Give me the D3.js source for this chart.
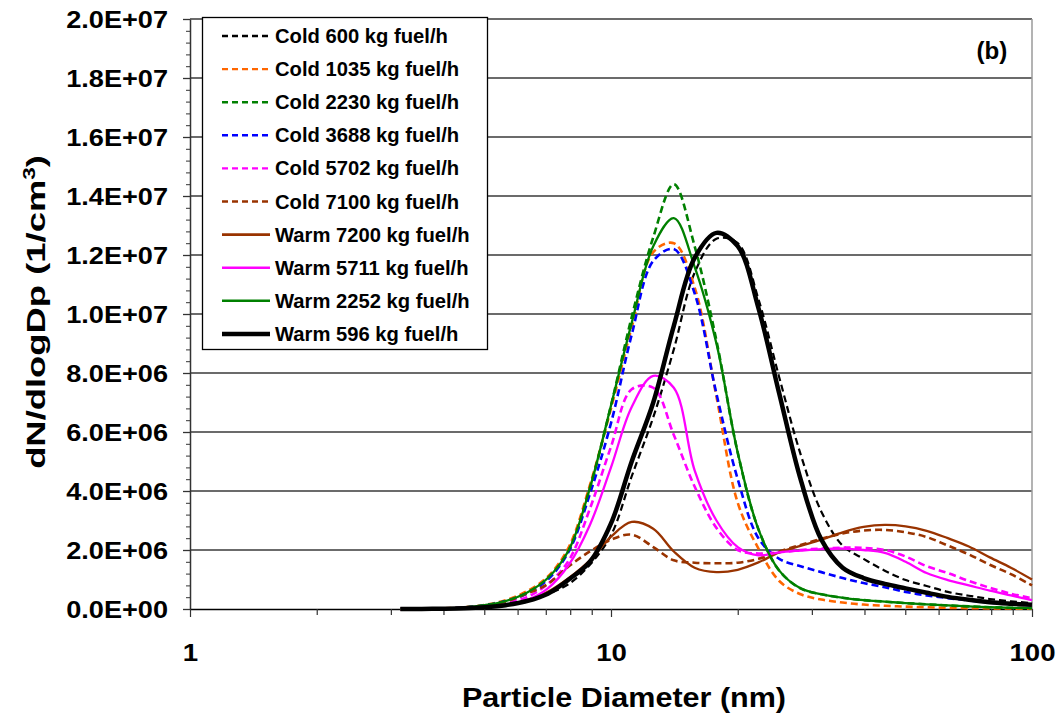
<!DOCTYPE html>
<html><head><meta charset="utf-8">
<script src="https://cdn.jsdelivr.net/npm/d3@7"></script>
<style>
body{margin:0;background:#fff;}
svg text{font-family:"Liberation Sans",Arial,sans-serif;font-weight:bold;fill:#000;}
</style></head><body>
<svg id="chart" width="1060" height="715"></svg>
<script>
// ---- data (dN/dlogDp in units of 1E6 per cm3) ----
const diameters = [3.16, 3.55, 3.98, 4.47, 5.01, 5.62, 6.31, 7.08, 7.94, 8.91, 10.0, 11.2, 12.6, 14.1, 15.8, 17.8, 20.0, 22.4, 25.1, 28.2, 31.6, 35.5, 39.8, 44.7, 50.1, 56.2, 63.1, 70.8, 79.4, 89.1, 100];

const cold600  = [0, 0.002, 0.008, 0.025, 0.06, 0.13, 0.25, 0.5, 0.85, 1.5, 2.5, 4.5, 6.5, 8.8, 11.4, 12.55, 12.4, 10.5, 7.85, 5.25, 3.3, 2.15, 1.7, 1.3, 0.98, 0.78, 0.58, 0.45, 0.34, 0.26, 0.2];
const cold1035 = [0, 0.005, 0.02, 0.06, 0.14, 0.3, 0.6, 1.1, 2.1, 4.2, 6.8, 9.55, 12.1, 12.4, 10.9, 7.2, 3.6, 2.05, 0.95, 0.5, 0.32, 0.22, 0.15, 0.11, 0.08, 0.06, 0.04, 0.03, 0.02, 0.015, 0.01];
const cold2230 = [0, 0.004, 0.015, 0.05, 0.13, 0.27, 0.55, 1.05, 2.0, 4.1, 6.9, 9.9, 12.6, 14.4, 12.3, 9.1, 5.3, 2.7, 1.3, 0.7, 0.5, 0.38, 0.3, 0.25, 0.2, 0.16, 0.12, 0.09, 0.06, 0.04, 0.03];
const cold3688 = [0, 0.004, 0.015, 0.05, 0.12, 0.26, 0.52, 1.0, 1.95, 3.9, 6.3, 9.3, 11.8, 12.2, 10.7, 7.3, 4.4, 2.4, 1.7, 1.45, 1.25, 1.05, 0.88, 0.74, 0.58, 0.46, 0.37, 0.29, 0.22, 0.17, 0.13];
const cold5702 = [0, 0.003, 0.012, 0.04, 0.1, 0.2, 0.4, 0.85, 1.65, 3.4, 5.5, 7.45, 7.5, 5.9, 4.15, 2.75, 2.0, 1.88, 1.92, 2.0, 2.05, 2.08, 2.07, 2.0, 1.78, 1.45, 1.22, 0.95, 0.72, 0.52, 0.36];
const cold7100 = [0, 0.003, 0.012, 0.04, 0.1, 0.25, 0.52, 0.85, 1.45, 1.95, 2.35, 2.52, 2.1, 1.65, 1.57, 1.55, 1.57, 1.7, 1.95, 2.17, 2.38, 2.56, 2.66, 2.68, 2.6, 2.44, 2.15, 1.85, 1.5, 1.18, 0.8];
const warm7200 = [0, 0.002, 0.008, 0.025, 0.06, 0.13, 0.3, 0.58, 1.05, 1.65, 2.45, 2.95, 2.72, 1.95, 1.4, 1.25, 1.33, 1.58, 1.92, 2.14, 2.35, 2.6, 2.78, 2.85, 2.8, 2.65, 2.4, 2.12, 1.75, 1.4, 1.0];
const warm5711 = [0, 0.002, 0.008, 0.025, 0.06, 0.13, 0.3, 0.7, 1.5, 2.85, 4.8, 6.85, 7.9, 7.5, 4.7, 3.0, 2.1, 1.82, 1.92, 1.98, 2.03, 2.05, 2.0, 1.9, 1.6, 1.22, 0.98, 0.8, 0.62, 0.46, 0.3];
const warm2252 = [0, 0.004, 0.015, 0.05, 0.13, 0.27, 0.55, 1.05, 2.0, 4.1, 6.9, 9.7, 12.3, 13.25, 11.6, 9.0, 5.3, 2.7, 1.3, 0.7, 0.5, 0.38, 0.3, 0.25, 0.2, 0.16, 0.12, 0.09, 0.06, 0.04, 0.03];
const warm596  = [0, 0.003, 0.01, 0.025, 0.06, 0.13, 0.27, 0.52, 1.0, 1.6, 2.9, 5.0, 7.0, 9.6, 11.9, 12.75, 12.3, 10.2, 7.3, 4.4, 2.35, 1.4, 1.05, 0.85, 0.7, 0.55, 0.41, 0.31, 0.23, 0.18, 0.14];

const seriesNames  = ["Cold 600 kg fuel/h", "Cold 1035 kg fuel/h", "Cold 2230 kg fuel/h", "Cold 3688 kg fuel/h", "Cold 5702 kg fuel/h", "Cold 7100 kg fuel/h", "Warm 7200 kg fuel/h", "Warm 5711 kg fuel/h", "Warm 2252 kg fuel/h", "Warm 596 kg fuel/h"];
const seriesValues = [cold600, cold1035, cold2230, cold3688, cold5702, cold7100, warm7200, warm5711, warm2252, warm596];
const seriesColors = ["#000000", "#FF6600", "#008000", "#0000FF", "#FF00FF", "#993300", "#993300", "#FF00FF", "#008000", "#000000"];
const seriesDashed = [true, true, true, true, true, true, false, false, false, false];
const seriesWidths = [2.2, 2.6, 2.6, 2.6, 2.6, 2.6, 2.3, 2.3, 2.3, 4.5];

const yTickValues = [0, 2, 4, 6, 8, 10, 12, 14, 16, 18, 20];
const yTickLabels = ["0.0E+00", "2.0E+06", "4.0E+06", "6.0E+06", "8.0E+06", "1.0E+07", "1.2E+07", "1.4E+07", "1.6E+07", "1.8E+07", "2.0E+07"];
const xTickValues = [1, 10, 100];
const xTickLabels = ["1", "10", "100"];

// ---- layout ----
const L = 190, R = 1032, T = 19, B = 609;
const svg = d3.select("#chart");
const x = d3.scaleLog().domain([1, 100]).range([L, R]);
const y = d3.scaleLinear().domain([0, 20]).range([B, T]);

function stretch(sel, k) {
  sel.each(function () {
    const w = this.getComputedTextLength();
    this.setAttribute("textLength", w * k);
    this.setAttribute("lengthAdjust", "spacingAndGlyphs");
  });
}

// gridlines
svg.append("g").selectAll("line").data(yTickValues.filter(v => v > 0)).join("line")
  .attr("x1", L).attr("x2", R).attr("y1", d => y(d)).attr("y2", d => y(d))
  .attr("stroke", "#3a3a3a").attr("stroke-width", 1.3);
// right border
svg.append("line").attr("x1", R).attr("x2", R).attr("y1", T).attr("y2", B)
  .attr("stroke", "#9a9a9a").attr("stroke-width", 1.5);

// minor y ticks
const yMinor = d3.range(0, 20.01, 0.4).filter(v => Math.abs(v / 2 - Math.round(v / 2)) > 1e-6);
svg.append("g").attr("transform", `translate(${L},0)`)
  .call(d3.axisLeft(y).tickValues(yMinor).tickSize(4).tickFormat(""))
  .call(g => g.select(".domain").remove())
  .selectAll("line").attr("stroke", "#333").attr("stroke-width", 1);

// y axis
const yAx = svg.append("g").attr("transform", `translate(${L},0)`)
  .call(d3.axisLeft(y).tickValues(yTickValues).tickFormat((d, i) => yTickLabels[i]).tickSize(7).tickPadding(15).tickSizeOuter(0));
yAx.select(".domain").attr("stroke", "#333").attr("stroke-width", 1.5);
yAx.selectAll("line").attr("stroke", "#333").attr("stroke-width", 1.3);
yAx.selectAll("text").attr("font-size", 24).attr("dy", "0.36em")
  .style("font-family", '"Liberation Sans",Arial,sans-serif').style("font-weight", "bold");
stretch(yAx.selectAll("text"), 1.13);

// x axis (minor + major ticks)
const xAllTicks = [];
[1, 10].forEach(dec => { for (let m = 1; m < 10; m++) xAllTicks.push(dec * m); });
xAllTicks.push(100);
const xAx = svg.append("g").attr("transform", `translate(0,${B})`)
  .call(d3.axisBottom(x).tickValues(xAllTicks)
    .tickFormat(d => { const i = xTickValues.indexOf(d); return i >= 0 ? xTickLabels[i] : ""; })
    .tickSize(6).tickPadding(29).tickSizeOuter(0));
xAx.select(".domain").attr("stroke", "#000").attr("stroke-width", 1.5);
xAx.selectAll("line").attr("stroke", "#333").attr("stroke-width", 1.2);
xAx.selectAll(".tick").filter(d => xTickValues.includes(d)).select("line").attr("y2", 8);
xAx.selectAll("text").attr("font-size", 24)
  .style("font-family", '"Liberation Sans",Arial,sans-serif').style("font-weight", "bold");
stretch(xAx.selectAll("text").filter(function () { return this.textContent !== ""; }), 1.15);

// series
const line = d3.line().x(d => x(d[0])).y(d => y(d[1])).curve(d3.curveCatmullRom.alpha(0.5));
seriesValues.forEach((vals, i) => {
  svg.append("path")
    .datum(diameters.map((d, j) => [d, vals[j]]))
    .attr("d", line)
    .attr("fill", "none")
    .attr("stroke", seriesColors[i])
    .attr("stroke-width", seriesWidths[i])
    .attr("stroke-dasharray", seriesDashed[i] ? "7,4" : null)
    .attr("stroke-linejoin", "round");
});

// legend
const lg = svg.append("g");
lg.append("rect").attr("x", 202.5).attr("y", 17.5).attr("width", 285).attr("height", 332)
  .attr("fill", "#fff").attr("stroke", "#000").attr("stroke-width", 1.3);
seriesNames.forEach((name, i) => {
  const cy = 36 + i * 33.1;
  lg.append("line").attr("x1", 222).attr("x2", 270).attr("y1", cy).attr("y2", cy)
    .attr("stroke", seriesColors[i]).attr("stroke-width", i === 9 ? 4.5 : (seriesDashed[i] ? 2.4 : 2.6))
    .attr("stroke-dasharray", seriesDashed[i] ? "6,4" : null);
  const t = lg.append("text").attr("x", 275).attr("y", cy + 7).attr("font-size", 20).text(name);
  stretch(t, 1.01);
});

// panel label
const pb = svg.append("text").attr("x", 992).attr("y", 59).attr("text-anchor", "middle").attr("font-size", 23).text("(b)");
stretch(pb, 1.05);

// axis titles
const xt = svg.append("text").attr("x", 624).attr("y", 707).attr("text-anchor", "middle")
  .attr("font-size", 27).text("Particle Diameter (nm)");
xt.attr("textLength", 324).attr("lengthAdjust", "spacingAndGlyphs");

const yt = svg.append("text").attr("transform", "translate(45,312) rotate(-90) scale(1.4,1)").attr("text-anchor", "middle")
  .attr("font-size", 26);
yt.append("tspan").text("dN/dlogDp  (1/cm");
yt.append("tspan").attr("font-size", 16).attr("dy", -10).text("3");
yt.append("tspan").attr("dy", 10).text(")");
</script>
</body></html>
